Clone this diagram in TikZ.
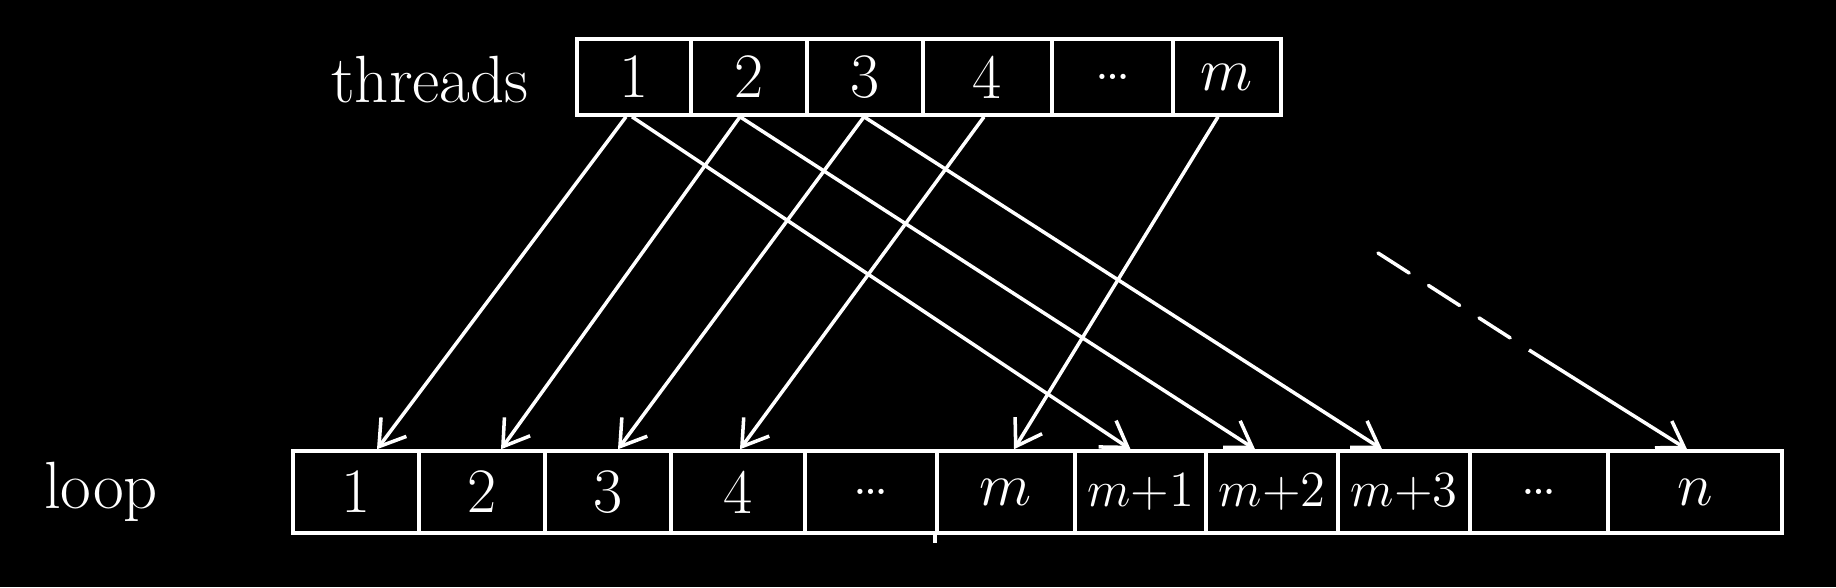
\documentclass[tikz,border=0pt]{standalone}
\usetikzlibrary{arrows.meta,calc}
\begin{document}
\begin{tikzpicture}[x=0.01cm,y=-0.01cm,
  cell/.style={draw=white, line width=1pt, inner sep=0pt, text=white,
    font=\fontsize{18}{20}\selectfont},
  tcell/.style={cell, minimum height=0.76cm},
  bcell/.style={cell, minimum height=0.82cm},
  small/.style={font=\fontsize{14}{16}\selectfont},
  lbl/.style={text=white, font=\fontsize{19}{22}\selectfont},
  arr/.style={draw=white, line width=1pt, -{Straight Barb[length=7pt,width=9pt]}}
]
\fill[black] (0,0) rectangle (1836,587);
\useasboundingbox (0,0) rectangle (1836,587);
% threads row
\node[lbl] (threads) at (430,80) {threads};
\node[tcell, minimum width=1.14cm] (t1) at (634,77) {1};
\node[tcell, minimum width=1.16cm] (t2) at (749,77) {2};
\node[tcell, minimum width=1.16cm] (t3) at (865,77) {3};
\node[tcell, minimum width=1.29cm] (t4) at (987.5,77) {4};
\node[tcell, minimum width=1.21cm] (td) at (1112.5,77) {\dots};
\node[tcell, minimum width=1.08cm] (tm) at (1227,77) {$m$};
% loop row
\node[lbl] (loop) at (101,492) {loop};
\node[bcell, minimum width=1.26cm] (b1) at (356,492) {1};
\node[bcell, minimum width=1.26cm] (b2) at (482,492) {2};
\node[bcell, minimum width=1.26cm] (b3) at (608,492) {3};
\node[bcell, minimum width=1.34cm] (b4) at (738,492) {4};
\node[bcell, minimum width=1.32cm] (bd) at (871,492) {\dots};
\node[bcell, minimum width=1.38cm] (bm) at (1006,492) {$m$};
\node[bcell, minimum width=1.31cm] (bm1) at (1140.5,492) {\small\fontsize{14}{16}\selectfont $m{+}1$};
\node[bcell, minimum width=1.32cm] (bm2) at (1272,492) {\fontsize{14}{16}\selectfont $m{+}2$};
\node[bcell, minimum width=1.32cm] (bm3) at (1404,492) {\fontsize{14}{16}\selectfont $m{+}3$};
\node[bcell, minimum width=1.38cm] (bd2) at (1539,492) {\dots};
\node[bcell, minimum width=1.74cm] (bn) at (1695,492) {$n$};
\draw[white, line width=1pt] (bm.south west) -- ++(0,8);
% arrows
\draw[arr] ([xshift=-0.08cm]t1.south) -- ([xshift=0.21cm]b1.north);
\draw[arr] ([xshift=-0.02cm]t1.south) -- ([xshift=-0.10cm]bm1.north);
\draw[arr] ([xshift=-0.09cm]t2.south) -- ([xshift=0.19cm]b2.north);
\draw[arr] ([xshift=-0.09cm]t2.south) -- ([xshift=-0.17cm]bm2.north);
\draw[arr] ([xshift=-0.01cm]t3.south) -- ([xshift=0.10cm]b3.north);
\draw[arr] ([xshift=-0.01cm]t3.south) -- ([xshift=-0.22cm]bm3.north);
\draw[arr] ([xshift=-0.035cm]t4.south) -- ([xshift=0.02cm]b4.north);
\draw[arr] ([xshift=-0.09cm]tm.south) -- ([xshift=0.08cm]bm.north);
% dashed continuation
\coordinate (ds) at (1378,253);
\coordinate (de) at (1529,350);
\draw[white, line width=1pt, line cap=round, dash pattern=on 0.37cm off 0.23cm] (ds) -- (de);
\draw[arr] (de) -- ([xshift=-0.08cm]bn.north);
\end{tikzpicture}
\end{document}
